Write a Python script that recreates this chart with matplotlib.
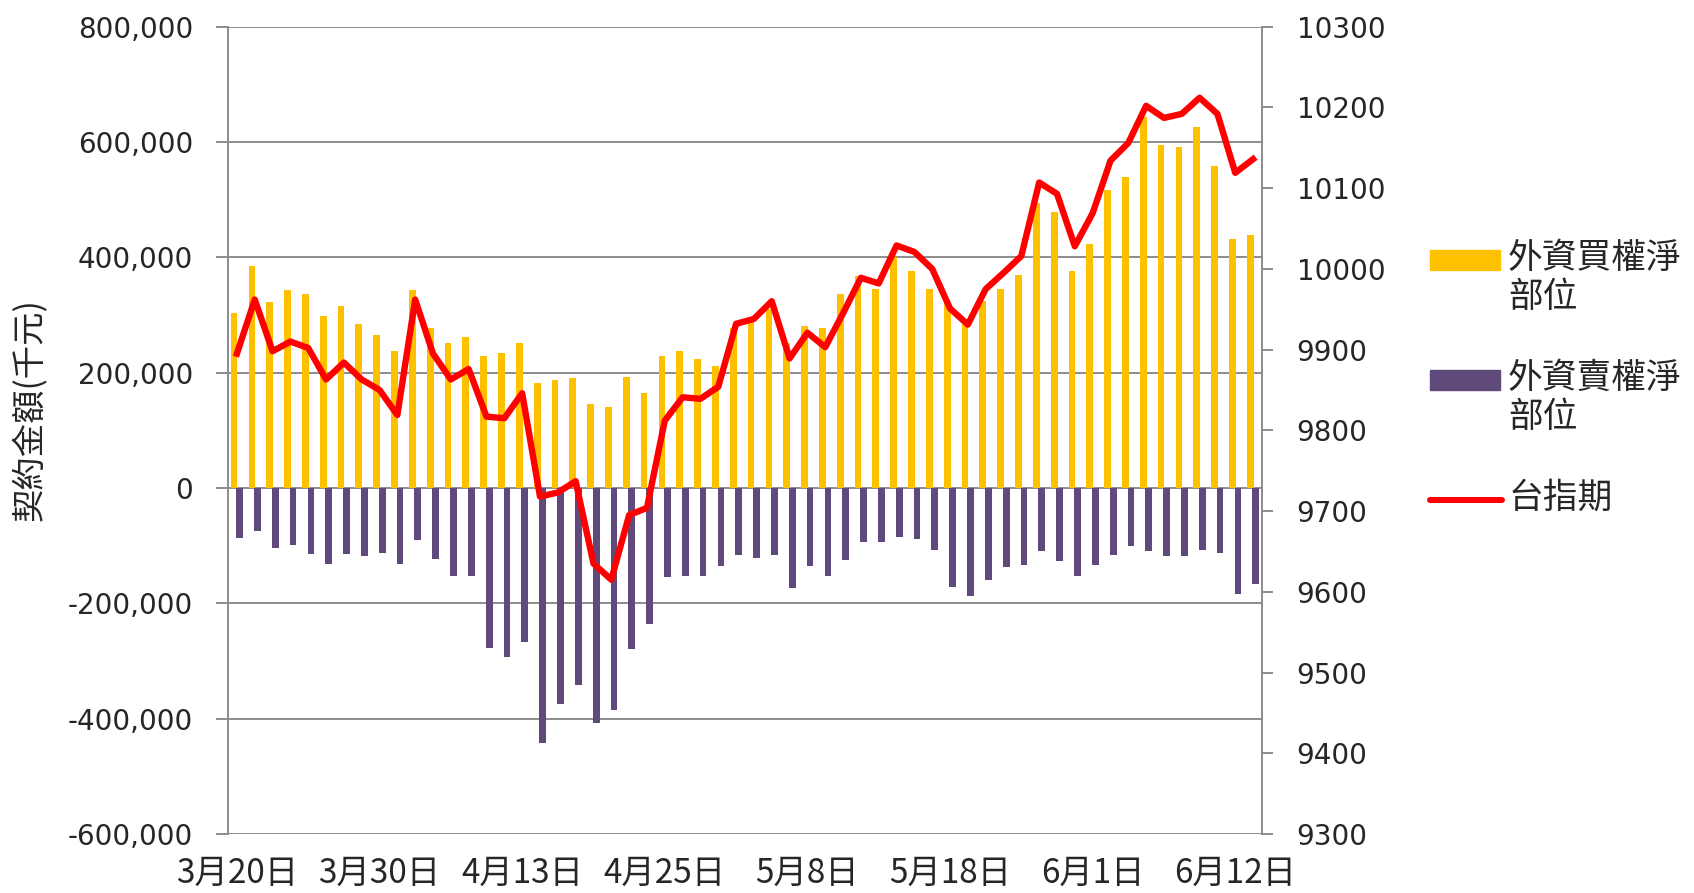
import numpy as np
import matplotlib
matplotlib.use('Agg')
import matplotlib.pyplot as plt
from matplotlib.patches import Rectangle
from matplotlib.lines import Line2D
from matplotlib.ticker import FuncFormatter, MultipleLocator

# ---------------------------------------------------------
# DATA
# ---------------------------------------------------------
DATES = [
    "3月20日", "3月21日", "3月22日", "3月23日", "3月24日", "3月27日", "3月28日", "3月29日",
    "3月30日", "3月31日", "4月5日", "4月6日", "4月7日", "4月10日", "4月11日", "4月12日",
    "4月13日", "4月14日", "4月17日", "4月18日", "4月19日", "4月20日", "4月21日", "4月24日",
    "4月25日", "4月26日", "4月27日", "4月28日", "5月2日", "5月3日", "5月4日", "5月5日",
    "5月8日", "5月9日", "5月10日", "5月11日", "5月12日", "5月15日", "5月16日", "5月17日",
    "5月18日", "5月19日", "5月22日", "5月23日", "5月24日", "5月25日", "5月26日", "5月31日",
    "6月1日", "6月2日", "6月3日", "6月5日", "6月6日", "6月7日", "6月8日", "6月9日",
    "6月12日", "6月13日",
]

# 外資買權淨部位 (千元)
CALL_NET = [
    304000, 385000, 323000, 343000, 337000, 298000, 315000, 285000, 265000, 238000,
    343000, 278000, 251000, 262000, 229000, 235000, 251000, 182000, 187000, 190000,
    145000, 140000, 193000, 164000, 229000, 238000, 223000, 212000, 278000, 289000,
    310000, 252000, 281000, 278000, 337000, 367000, 345000, 400000, 376000, 345000,
    320000, 290000, 325000, 345000, 370000, 495000, 479000, 376000, 423000, 517000,
    539000, 643000, 595000, 592000, 626000, 559000, 432000, 439000,
]

# 外資賣權淨部位 (千元)
PUT_NET = [
    -87000, -74000, -104000, -99000, -115000, -131000, -115000, -118000, -112000, -131000,
    -90000, -123000, -153000, -153000, -277000, -293000, -267000, -443000, -374000, -341000,
    -407000, -385000, -280000, -235000, -155000, -152000, -152000, -136000, -116000, -121000,
    -116000, -174000, -136000, -152000, -124000, -94000, -94000, -85000, -88000, -107000,
    -171000, -187000, -160000, -137000, -133000, -110000, -127000, -152000, -133000, -116000,
    -101000, -110000, -118000, -118000, -107000, -112000, -184000, -166000,
]

# 台指期
TX_INDEX = [
    9895, 9962, 9898, 9910, 9902, 9863, 9884, 9863, 9850, 9819,
    9962, 9895, 9863, 9876, 9817, 9815, 9846, 9718, 9723, 9737,
    9635, 9615, 9695, 9704, 9812, 9841, 9839, 9854, 9932, 9938,
    9960, 9889, 9921, 9903, 9945, 9989, 9982, 10029, 10021, 10000,
    9951, 9931, 9975, 9995, 10016, 10107, 10093, 10028, 10069, 10134,
    10156, 10202, 10187, 10192, 10212, 10192, 10119, 10136,
]

LABELS = ["外資買權淨\n部位", "外資賣權淨\n部位", "台指期"]

YELLOW = "#FFC000"
PURPLE = "#604A7B"
RED = "#FF0000"
GRID = "#8C8C8C"
TEXT = "#262626"
CJK = ["Noto Sans CJK TC", "DejaVu Sans"]

x = np.arange(len(DATES))

fig = plt.figure(figsize=(16.94, 8.93), dpi=100)
ax = fig.add_axes([228 / 1694, 1 - 834 / 893, (1262 - 228) / 1694, (834 - 26.7) / 893])

# --- bars on the left axis ---
ax.bar(x - 0.16, CALL_NET, width=0.38, color=YELLOW, zorder=2)
ax.bar(x + 0.15, PUT_NET, width=0.38, color=PURPLE, zorder=2)

ax.set_xlim(-0.5, len(DATES) - 0.5)
ax.set_ylim(-600000, 800000)
ax.yaxis.set_major_locator(MultipleLocator(200000))
ax.yaxis.set_major_formatter(FuncFormatter(lambda v, p: f"{int(v):,}"))
ax.grid(axis='y', color=GRID, linewidth=1.4, zorder=0)
ax.set_axisbelow(True)

for s in ['top', 'right', 'bottom']:
    ax.spines[s].set_visible(False)
ax.spines['left'].set_color(GRID)
ax.spines['left'].set_linewidth(1.4)

ax.tick_params(axis='y', length=9, width=1.4, color=GRID, pad=16,
               labelsize=20, labelcolor=TEXT)

tick_idx = list(range(0, len(DATES), 8))
ax.set_xticks(tick_idx)
ax.set_xticklabels([DATES[i] for i in tick_idx], family=CJK, fontsize=24, color=TEXT)
ax.tick_params(axis='x', length=0, pad=16)

# --- index line on the right axis ---
ax2 = ax.twinx()
ax2.plot(x, TX_INDEX, color=RED, linewidth=4.6, solid_joinstyle='round', zorder=3)
ax2.set_ylim(9300, 10300)
ax2.yaxis.set_major_locator(MultipleLocator(100))
for s in ['top', 'left', 'bottom']:
    ax2.spines[s].set_visible(False)
ax2.spines['right'].set_color(GRID)
ax2.spines['right'].set_linewidth(1.4)
ax2.tick_params(axis='y', length=8, width=1.4, color=GRID, pad=17,
                labelsize=20, labelcolor=TEXT)

fig.text(30 / 1694, 1 - 410 / 893, "契約金額(千元)", rotation=90, ha='center', va='center',
         family=CJK, fontsize=24, color=TEXT)

# --- legend drawn by hand so the key sits beside the first text line ---
leg_y = [260, 380, 500]
for i, lab in enumerate(LABELS):
    yc = 1 - leg_y[i] / 893
    if i < 2:
        fig.add_artist(Rectangle((1430 / 1694, yc - 10 / 893), 70 / 1694, 20 / 893,
                                 transform=fig.transFigure,
                                 color=[YELLOW, PURPLE][i]))
    else:
        fig.add_artist(Line2D([1430 / 1694, 1502 / 1694], [yc, yc], transform=fig.transFigure,
                              color=RED, linewidth=4.3, solid_capstyle='round'))
    fig.text(1508 / 1694, yc + 19 / 893, lab, ha='left', va='top', family=CJK,
             fontsize=25, color=TEXT, linespacing=1.15)

fig.savefig("out.png", dpi=100)
